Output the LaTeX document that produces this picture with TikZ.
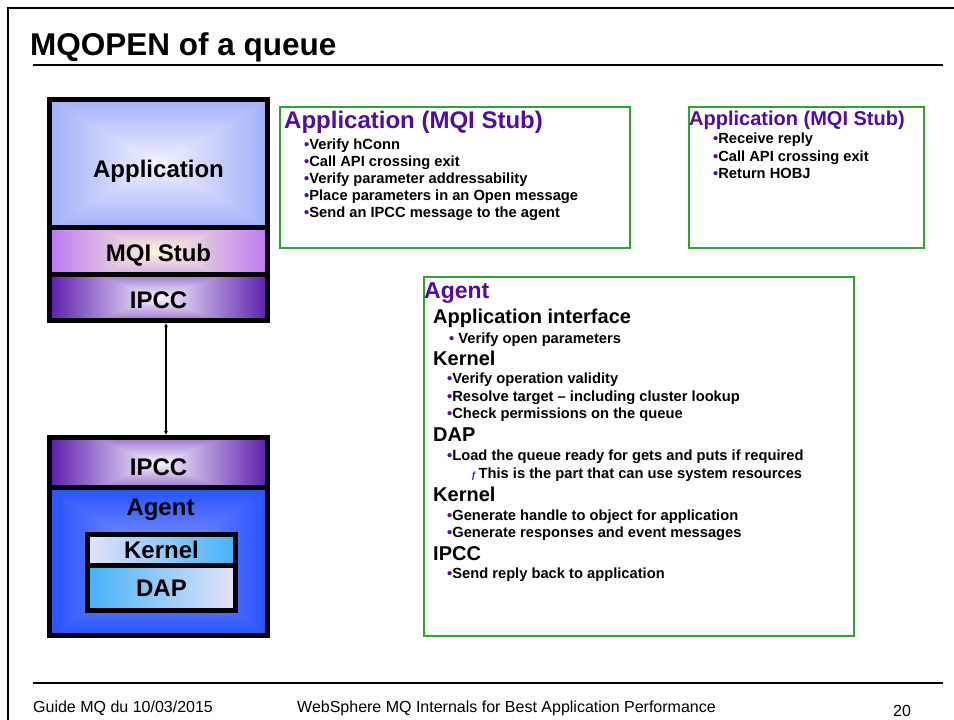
\documentclass[tikz,border=0pt]{standalone}
\usepackage{fontspec}
\setmainfont{Liberation Sans}
\usetikzlibrary{arrows.meta}

\definecolor{mqpurple}{RGB}{82,12,160}
\definecolor{boxgreen}{RGB}{46,165,46}
\definecolor{kernlav}{rgb}{0.90,0.89,0.98}
\definecolor{kernsky}{rgb}{0.27,0.70,0.97}

% Rectangular "from centre" gradient: #2-#4 inner rgb, #5-#7 outer rgb,
% #8 weight of the vertical distance.
\newcommand{\rectshading}[8]{%
  \pgfdeclarefunctionalshading{#1}{\pgfpointorigin}{\pgfpoint{100bp}{100bp}}{}{%
    50 sub abs #8 mul exch 50 sub abs
    2 copy sub abs add add 2 div 25 div
    dup #5 #2 sub mul #2 add exch
    dup #6 #3 sub mul #3 add exch
    #7 #4 sub mul #4 add
  }}
\rectshading{appshade}{0.95}{0.95}{1.0}{0.63}{0.69}{0.97}{1.0}
\rectshading{stubshade}{0.99}{0.97}{0.84}{0.74}{0.47}{0.95}{0.6}
\rectshading{ipccshade}{0.97}{0.96}{1.0}{0.36}{0.12}{0.68}{0.6}
\rectshading{agentshade}{0.56}{0.62}{0.98}{0.15}{0.32}{1.0}{1.0}

\newcommand{\mqbullet}{{\color{mqpurple}•}}

\begin{document}
\begin{tikzpicture}[x=1pt,y=-1pt,
  layer/.style={draw=black, line width=5pt, minimum width=218pt, inner sep=0pt,
    font=\bfseries\fontsize{24}{28}\selectfont, text depth=0pt},
  innerlayer/.style={layer, minimum width=148pt},
  gbox/.style={draw=boxgreen, line width=1.5pt, anchor=north west, inner sep=0pt},
  boxtitle/.style={anchor=base west, inner sep=0pt, text=mqpurple,
    font=\bfseries\fontsize{24}{28}\selectfont},
  heading/.style={anchor=base west, inner sep=0pt,
    font=\bfseries\fontsize{20}{24}\selectfont},
  item/.style={anchor=base west, inner sep=0pt,
    font=\bfseries\fontsize{14.7}{17}\selectfont},
  foot/.style={anchor=base west, inner sep=0pt, font=\fontsize{16}{19}\selectfont},
  link/.style={line width=1.8pt, {Latex[length=4pt,width=4pt]}-{Latex[length=4pt,width=4pt]}}
]
\useasboundingbox (0,0) rectangle (954,720);
\fill[white] (0,0) rectangle (954,720);

% slide frame, title and footer
\draw[line width=2.5pt] (8,720) -- (8,8) -- (954,8);
\node[anchor=base west, inner sep=0pt, font=\bfseries\fontsize{31.5}{36}\selectfont]
  (title) at (30,55) {MQOPEN of a queue};
\draw[line width=1.2pt] (33,65) -- (943,65);
\draw[line width=1.2pt] (33,683) -- (943,683);
\node[foot] (date) at (33,712) {Guide MQ du 10/03/2015};
\node[foot] (course) at (297,712) {WebSphere MQ Internals for Best Application Performance};
\node[foot] (page) at (893,716) {20};

% application side stack
\node[layer, shade, shading=appshade, minimum height=128pt, text height=27.2pt]
  (app) at (158.5,163.5) {Application};
\node[layer, shade, shading=stubshade, minimum height=47pt, text height=21.8pt]
  (stub) at (158.5,251) {MQI Stub};
\node[layer, shade, shading=ipccshade, minimum height=46pt, text height=22.2pt]
  (ipccA) at (158.5,297.5) {IPCC};

% agent side stack
\node[layer, shade, shading=ipccshade, minimum height=50pt, text height=25.6pt]
  (ipccB) at (158.5,462.5) {IPCC};
\node[layer, shade, shading=agentshade, minimum height=148pt]
  (agent) at (158.5,561.5) {};
\node[anchor=base, inner sep=0pt, font=\bfseries\fontsize{24}{28}\selectfont]
  (agentlbl) at (160.5,515) {Agent};
\node[innerlayer, left color=kernlav, right color=kernsky, minimum height=31pt,
  text height=17.2pt] (kernel) at (161.5,550) {Kernel};
\node[innerlayer, left color=kernsky, right color=kernlav, minimum height=45pt,
  text height=17.2pt] (dap) at (161.5,588) {DAP};

% IPC link between the two stacks
\draw[link] ([xshift=7.5pt]ipccA.south) -- ([xshift=7.5pt]ipccB.north);

% application (MQI stub) steps before the call
\node[gbox, minimum width=350pt, minimum height=141pt] (stepsA) at (279,106) {};
\node[boxtitle] (stepsAtitle) at (284,128) {Application (MQI Stub)};
\node[item] (a1) at (304,149) {\mqbullet Verify hConn};
\node[item] (a2) at (304,166) {\mqbullet Call API crossing exit};
\node[item] (a3) at (304,183) {\mqbullet Verify parameter addressability};
\node[item] (a4) at (304,200) {\mqbullet Place parameters in an Open message};
\node[item] (a5) at (304,217) {\mqbullet Send an IPCC message to the agent};

% application (MQI stub) steps after the reply
\node[gbox, minimum width=235pt, minimum height=141pt] (stepsB) at (688,106) {};
\node[boxtitle, font=\bfseries\fontsize{20}{24}\selectfont] (stepsBtitle) at (689,125)
  {Application (MQI Stub)};
\node[item] (b1) at (713,143) {\mqbullet Receive reply};
\node[item] (b2) at (713,161) {\mqbullet Call API crossing exit};
\node[item] (b3) at (713,178) {\mqbullet Return HOBJ};

% agent processing
\node[gbox, minimum width=430pt, minimum height=359pt] (stepsC) at (423,276) {};
\node[boxtitle, font=\bfseries\fontsize{23}{27}\selectfont] (stepsCtitle) at (424,298) {Agent};
\node[heading] (h1) at (433,323) {Application interface};
\node[item] (c1) at (449,343) {\mqbullet\ Verify open parameters};
\node[heading] (h2) at (433,365) {Kernel};
\node[item] (c2) at (447,383) {\mqbullet Verify operation validity};
\node[item] (c3) at (447,401) {\mqbullet Resolve target – including cluster lookup};
\node[item] (c4) at (447,418) {\mqbullet Check permissions on the queue};
\node[heading] (h3) at (433,441) {DAP};
\node[item] (c5) at (447,460) {\mqbullet Load the queue ready for gets and puts if required};
\node[item] (c6) at (471,478) {{\color{mqpurple}\fontsize{9}{10}\selectfont\itshape ƒ}\,This is the part that can use system resources};
\node[heading] (h4) at (433,501) {Kernel};
\node[item] (c7) at (447,520) {\mqbullet Generate handle to object for application};
\node[item] (c8) at (447,537) {\mqbullet Generate responses and event messages};
\node[heading] (h5) at (433,560) {IPCC};
\node[item] (c9) at (447,578) {\mqbullet Send reply back to application};
\end{tikzpicture}
\end{document}
